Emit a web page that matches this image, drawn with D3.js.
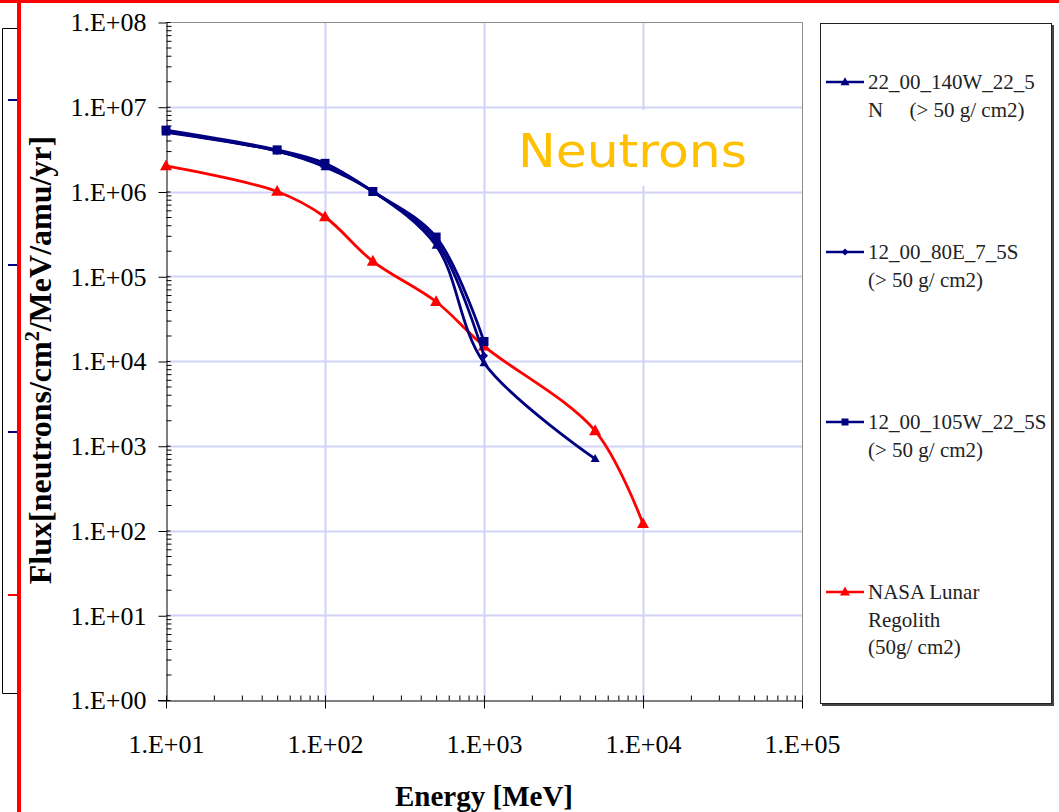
<!DOCTYPE html>
<html>
<head>
<meta charset="utf-8">
<script src="https://cdn.jsdelivr.net/npm/d3@7"></script>
<style>
  html, body { margin: 0; padding: 0; background: #fff; }
  svg { display: block; }
</style>
</head>
<body>
<svg id="chart" width="1059" height="812"></svg>
<script>
// Energy grid (MeV) shared by all series
const energies = [10, 50, 100, 200, 500, 1000, 5000, 10000];

// Flux [neutrons/cm2/MeV/amu/yr] per series
const flux140W = [5.0e6, 3.0e6, 1.95e6, 1.0e6, 2.3e5, 9.5e3, 7.0e2];
const flux80E = [5.1e6, 3.0e6, 2.0e6, 1.0e6, 2.6e5, 1.15e4];
const flux105W = [5.3e6, 3.1e6, 2.15e6, 1.0e6, 2.9e5, 1.7e4];
const fluxRegolith = [2.0e6, 1.0e6, 5.0e5, 1.5e5, 5.0e4, 1.5e4, 1.5e3, 1.2e2];

// Legend text, one array of lines per series
const legend140W = ["22_00_140W_22_5", "N     (> 50 g/ cm2)"];
const legend80E = ["12_00_80E_7_5S", "(> 50 g/ cm2)"];
const legend105W = ["12_00_105W_22_5S", "(> 50 g/ cm2)"];
const legendRegolith = ["NASA Lunar", "Regolith", "(50g/ cm2)"];

// Axis ticks
const xTickValues = [1e1, 1e2, 1e3, 1e4, 1e5];
const xTickLabels = ["1.E+01", "1.E+02", "1.E+03", "1.E+04", "1.E+05"];
const yTickValues = [1e0, 1e1, 1e2, 1e3, 1e4, 1e5, 1e6, 1e7, 1e8];
const yTickLabels = ["1.E+00", "1.E+01", "1.E+02", "1.E+03", "1.E+04", "1.E+05", "1.E+06", "1.E+07", "1.E+08"];

const NAVY = "#000080";
const RED = "#ff0000";
const GRID = "#d2d2f7";
const SERIF = "'Liberation Serif', 'Times New Roman', serif";

const series = [
  { values: flux140W, color: NAVY, marker: "triangle", size: 9, legend: legend140W, ly: 82 },
  { values: flux80E, color: NAVY, marker: "diamond", size: 8, legend: legend80E, ly: 252 },
  { values: flux105W, color: NAVY, marker: "square", size: 9, legend: legend105W, ly: 422 },
  { values: fluxRegolith, color: RED, marker: "triangle", size: 12, legend: legendRegolith, ly: 592 }
];

const svg = d3.select("#chart");
const plot = { left: 166, right: 802, top: 22, bottom: 700 };

const x = d3.scaleLog().domain([1e1, 1e5]).range([plot.left, plot.right]);
const y = d3.scaleLog().domain([1e0, 1e8]).range([plot.bottom, plot.top]);

// ---- Frame elements at the page edge ----
const edge = svg.append("g");
edge.append("path")
  .attr("d", "M2.5,28.5 V693.5 H18 M2.5,28.5 H18")
  .attr("fill", "none").attr("stroke", "#000").attr("stroke-width", 1);
[100, 265, 432].forEach(v => edge.append("line")
  .attr("x1", 8).attr("x2", 17).attr("y1", v).attr("y2", v)
  .attr("stroke", NAVY).attr("stroke-width", 2));
edge.append("line").attr("x1", 8).attr("x2", 17).attr("y1", 595).attr("y2", 595)
  .attr("stroke", RED).attr("stroke-width", 2);
edge.append("rect").attr("x", 17).attr("y", 0).attr("width", 4).attr("height", 812).attr("fill", RED);
edge.append("rect").attr("x", 0).attr("y", 0).attr("width", 1059).attr("height", 3).attr("fill", RED);

// ---- Gridlines ----
const grid = svg.append("g");
grid.selectAll("line.gx").data(xTickValues.slice(1, -1)).join("line")
  .attr("x1", d => Math.round(x(d)) + 0.5).attr("x2", d => Math.round(x(d)) + 0.5)
  .attr("y1", plot.top).attr("y2", plot.bottom)
  .attr("stroke", GRID).attr("stroke-width", 2);
grid.selectAll("line.gy").data(yTickValues.slice(1, -1)).join("line")
  .attr("x1", plot.left).attr("x2", plot.right)
  .attr("y1", d => Math.round(y(d)) + 0.5).attr("y2", d => Math.round(y(d)) + 0.5)
  .attr("stroke", GRID).attr("stroke-width", 2);

// Plot area border (top and right)
svg.append("path")
  .attr("d", `M${plot.left},${plot.top + 0.5} H${plot.right + 0.5} V${plot.bottom}`)
  .attr("fill", "none").attr("stroke", "#8c8c8c").attr("stroke-width", 1);

// ---- "Neutrons" label box ----
svg.append("rect").attr("x", 500).attr("y", 110).attr("width", 278).attr("height", 76).attr("fill", "#fff");
svg.append("text")
  .attr("x", 518).attr("y", 167)
  .attr("font-family", "'Comic Sans MS', 'DejaVu Sans', sans-serif")
  .attr("font-size", 46)
  .attr("textLength", 229).attr("lengthAdjust", "spacingAndGlyphs")
  .attr("fill", "#ffc000")
  .text("Neutrons");

// ---- Axes ----
const minorValues = (lo, hi) => {
  const out = [];
  for (let p = lo; p < hi; p++) for (let m = 2; m <= 9; m++) out.push(m * Math.pow(10, p));
  return out;
};

function styleAxis(g) {
  g.select(".domain").attr("stroke", "#000").attr("stroke-width", 1);
  g.selectAll(".tick line").attr("stroke", "#000").attr("stroke-width", 1);
}

// Y axis: labelled major ticks crossing the axis, minor ticks inside
const yAxis = svg.append("g").attr("transform", `translate(${plot.left + 0.5},0)`)
  .call(d3.axisLeft(y).tickValues(yTickValues).tickSize(8).tickSizeOuter(0).tickPadding(12)
    .tickFormat((d, i) => yTickLabels[i]));
styleAxis(yAxis);
yAxis.selectAll("text").attr("font-family", SERIF).attr("font-size", 26).attr("fill", "#000").attr("dy", "0.34em");
yAxis.selectAll(".tick line").attr("y1", 0.5).attr("y2", 0.5);
svg.append("g").attr("transform", `translate(${plot.left + 0.5},0)`)
  .call(d3.axisLeft(y).tickValues(yTickValues).tickSize(-4).tickSizeOuter(0).tickFormat(""))
  .call(g => { g.select(".domain").remove(); styleAxis(g); });
svg.append("g").attr("transform", `translate(${plot.left + 0.5},0)`)
  .call(d3.axisLeft(y).tickValues(minorValues(0, 8)).tickSize(-5).tickSizeOuter(0).tickFormat(""))
  .call(g => { g.select(".domain").remove(); styleAxis(g); });

// X axis
const xAxis = svg.append("g").attr("transform", `translate(0,${plot.bottom + 0.5})`)
  .call(d3.axisBottom(x).tickValues(xTickValues).tickSize(8).tickSizeOuter(0).tickPadding(26)
    .tickFormat((d, i) => xTickLabels[i]));
styleAxis(xAxis);
xAxis.selectAll("text").attr("font-family", SERIF).attr("font-size", 26).attr("fill", "#000").attr("dy", "0.71em");
svg.append("g").attr("transform", `translate(0,${plot.bottom + 0.5})`)
  .call(d3.axisBottom(x).tickValues(xTickValues).tickSize(-5).tickSizeOuter(0).tickFormat(""))
  .call(g => { g.select(".domain").remove(); styleAxis(g); });
svg.append("g").attr("transform", `translate(0,${plot.bottom + 0.5})`)
  .call(d3.axisBottom(x).tickValues(minorValues(1, 5)).tickSize(-5).tickSizeOuter(0).tickFormat(""))
  .call(g => { g.select(".domain").remove(); styleAxis(g); });
// extend the x axis line left to meet the y-axis tick
svg.append("line").attr("x1", plot.left - 8).attr("x2", plot.left).attr("y1", plot.bottom + 0.5).attr("y2", plot.bottom + 0.5)
  .attr("stroke", "#000");

// Axis titles
svg.append("text")
  .attr("x", 484).attr("y", 806)
  .attr("text-anchor", "middle")
  .attr("font-family", SERIF).attr("font-weight", "bold").attr("font-size", 29)
  .text("Energy [MeV]");

const yTitle = svg.append("text")
  .attr("transform", "translate(51,360) rotate(-90)")
  .attr("text-anchor", "middle")
  .attr("font-family", SERIF).attr("font-weight", "bold").attr("font-size", 32);
yTitle.append("tspan").text("Flux[neutrons/cm");
yTitle.append("tspan").attr("dy", -12).attr("font-size", 20).text("2");
yTitle.append("tspan").attr("dy", 12).text("/MeV/amu/yr]");

// ---- Markers ----
function markerPath(kind, size) {
  if (kind === "triangle") {
    const h = size * 0.9, w = size;
    return `M0,${-h * 0.6} L${w / 2},${h * 0.4} L${-w / 2},${h * 0.4} Z`;
  }
  if (kind === "diamond") {
    const r = size / 2;
    return `M0,${-r} L${r},0 L0,${r} L${-r},0 Z`;
  }
  const r = size / 2;
  return `M${-r},${-r} H${r} V${r} H${-r} Z`;
}

// ---- Series lines (smoothed) ----
const line = d3.line()
  .x(d => x(d[0]))
  .y(d => y(d[1]))
  .curve(d3.curveCatmullRom.alpha(0.5));

const seriesG = svg.append("g");
// draw red first so navy curves sit on top where they cross
[series[3], series[2], series[1], series[0]].forEach(s => {
  const pts = s.values.map((v, i) => [energies[i], v]);
  const g = seriesG.append("g");
  g.append("path").datum(pts)
    .attr("d", line)
    .attr("fill", "none").attr("stroke", s.color).attr("stroke-width", 2.8)
    .attr("stroke-linejoin", "round");
  g.selectAll("path.m").data(pts).join("path")
    .attr("class", "m")
    .attr("transform", d => `translate(${x(d[0])},${y(d[1])})`)
    .attr("d", markerPath(s.marker, s.size))
    .attr("fill", s.color);
});

// ---- Legend ----
const legend = svg.append("g");
legend.append("rect").attr("x", 820.5).attr("y", 23.5).attr("width", 231).attr("height", 680)
  .attr("fill", "#fff").attr("stroke", "#222").attr("stroke-width", 1);
legend.append("path").attr("d", "M1053,25 V705 H822")
  .attr("fill", "none").attr("stroke", "#444").attr("stroke-width", 2);

series.forEach(s => {
  legend.append("line").attr("x1", 826).attr("x2", 864).attr("y1", s.ly).attr("y2", s.ly)
    .attr("stroke", s.color).attr("stroke-width", 2.5);
  const ms = s.marker === "triangle" ? (s.color === RED ? 10 : 9) : 7;
  legend.append("path")
    .attr("transform", `translate(845,${s.ly})`)
    .attr("d", markerPath(s.marker, ms))
    .attr("fill", s.color);
  const t = legend.append("text")
    .attr("font-family", SERIF).attr("font-size", 21).attr("fill", "#222")
    .style("white-space", "pre");
  s.legend.forEach((ln, i) => {
    t.append("tspan").attr("x", 868).attr("y", s.ly + 7 + i * 27.5).text(ln);
  });
});
</script>
</body>
</html>
